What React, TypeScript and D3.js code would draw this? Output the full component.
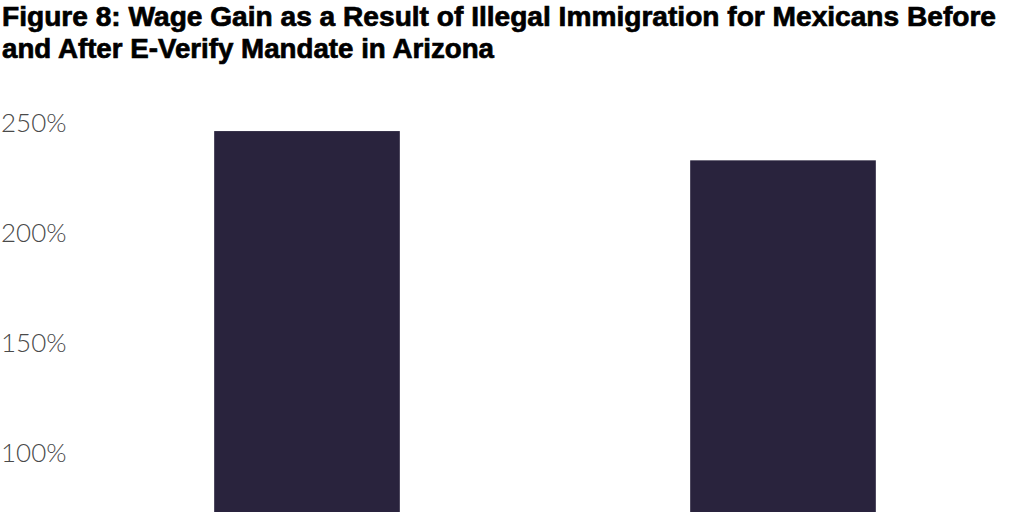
import React, { useEffect, useRef } from "react";
import * as d3 from "d3";

const categories = ["Before E-Verify Mandate", "After E-Verify Mandate"];
const wageGain = [246.1, 232.8];
// only the ticks visible in the cropped figure
const tickValues = [100, 150, 200, 250];

const WIDTH = 1024;
const HEIGHT = 512;

const App: React.FC = () => {
  const ref = useRef<SVGSVGElement>(null);

  useEffect(() => {
    const container = ref.current;
    if (!container) return;

    const svg = d3.select(container);
    svg.selectAll("*").remove();

    // title
    const title = svg
      .append("g")
      .attr("font-family", "'Liberation Sans', sans-serif")
      .attr("font-weight", "bold")
      .attr("font-size", 28)
      .attr("fill", "#000")
      .attr("stroke", "#000")
      .attr("stroke-width", 0.7);
    title
      .append("text")
      .attr("x", 2)
      .attr("y", 26)
      .attr("textLength", 994)
      .attr("lengthAdjust", "spacingAndGlyphs")
      .text("Figure 8: Wage Gain as a Result of Illegal Immigration for Mexicans Before");
    title
      .append("text")
      .attr("x", 2)
      .attr("y", 58)
      .attr("textLength", 492)
      .attr("lengthAdjust", "spacingAndGlyphs")
      .text("and After E-Verify Mandate in Arizona");

    // scaling
    const xScale = d3
      .scaleBand()
      .domain(categories)
      .range([69, 1021])
      .paddingInner(0.61)
      .paddingOuter(0.305);

    const yScale = d3.scaleLinear().domain([0, 250]).range([672.5, 122.5]);

    // y axis labels only, no line
    const yAxis = d3
      .axisLeft(yScale)
      .tickValues(tickValues)
      .tickSize(0)
      .tickPadding(0)
      .tickFormat((v) => `${v}%`);

    const yg = svg.append("g").call(yAxis);
    yg.select(".domain").remove();
    yg.selectAll("text")
      .attr("text-anchor", "start")
      .attr("x", 1)
      .attr("dy", "0.36em")
      .attr("font-family", "Lato, sans-serif")
      .attr("font-weight", 300)
      .attr("font-size", 26)
      .attr("fill", "#4a4a4a");

    // bars
    svg
      .selectAll(".bar")
      .data(wageGain)
      .enter()
      .append("rect")
      .classed("bar", true)
      .attr("x", (_, i) => xScale(categories[i]) ?? 0)
      .attr("y", (d) => yScale(d))
      .attr("width", xScale.bandwidth())
      .attr("height", (d) => yScale(0) - yScale(d))
      .attr("fill", "#29233d");
  }, [ref]);

  return (
    <svg
      ref={ref}
      width={WIDTH}
      height={HEIGHT}
      style={{ position: "absolute", left: 0, top: 0, overflow: "hidden", background: "#fff" }}
    />
  );
};

export default App;
